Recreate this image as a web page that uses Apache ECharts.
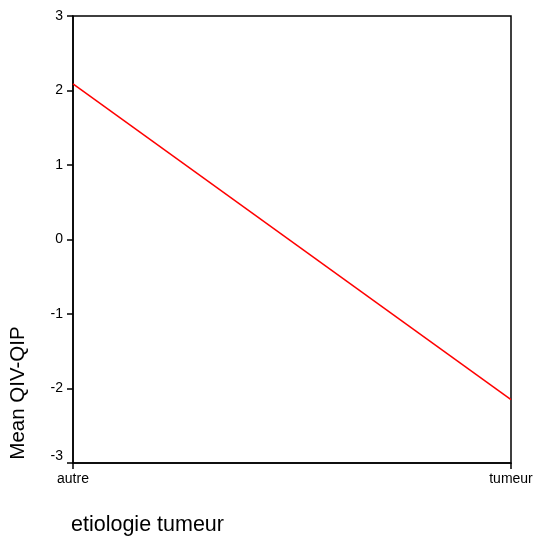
<!DOCTYPE html>
<html>
<head>
<meta charset="utf-8">
<script src="https://cdn.jsdelivr.net/npm/echarts@6/dist/echarts.min.js"></script>
<style>html,body{margin:0;padding:0;background:#fff}#c{width:540px;height:540px}</style>
</head>
<body>
<div id="c"></div>
<script>
const categories = ["autre", "tumeur"];
const meanValues = [2.09, -2.15];
const yTicks = [-3, -2, -1, 0, 1, 2, 3];
const xTitle = "etiologie tumeur";
const yTitle = "Mean QIV-QIP";

const chart = echarts.init(document.getElementById('c'), null, {renderer: 'canvas'});
const font = 'Liberation Sans, Arial, sans-serif';
chart.setOption({
  animation: false,
  backgroundColor: '#fff',
  grid: {left: 73, right: 29, top: 16, bottom: 77, show: true, borderColor: '#000', borderWidth: 1.5, backgroundColor: 'transparent'},
  xAxis: {
    type: 'category', data: categories, boundaryGap: false,
    axisLine: {onZero: false, lineStyle: {color: '#000', width: 1.5}},
    axisTick: {show: true, length: 6, lineStyle: {color: '#000', width: 1.5}},
    axisLabel: {color: '#000', fontSize: 14, fontFamily: font, margin: 9},
    splitLine: {show: false}
  },
  yAxis: {
    type: 'value', min: yTicks[0], max: yTicks[yTicks.length - 1], interval: 1,
    axisLine: {show: true, lineStyle: {color: '#000', width: 1.5}},
    axisTick: {show: true, length: 6, lineStyle: {color: '#000', width: 1.5}},
    axisLabel: {color: '#000', fontSize: 14, fontFamily: font, margin: 10, verticalAlignMinLabel: 'bottom'},
    splitLine: {show: false}
  },
  series: [{
    type: 'line', data: meanValues, showSymbol: false, symbol: 'none',
    lineStyle: {color: '#ff0000', width: 1.5}
  }],
  graphic: [
    {type: 'text', x: 71, y: 525, style: {text: xTitle, fill: '#000', font: '21.5px ' + font, align: 'left', verticalAlign: 'middle'}},
    {type: 'text', x: 18, y: 393, rotation: Math.PI / 2, style: {text: yTitle, fill: '#000', font: '20.5px ' + font, align: 'center', verticalAlign: 'middle'}}
  ]
});
</script>
</body>
</html>
